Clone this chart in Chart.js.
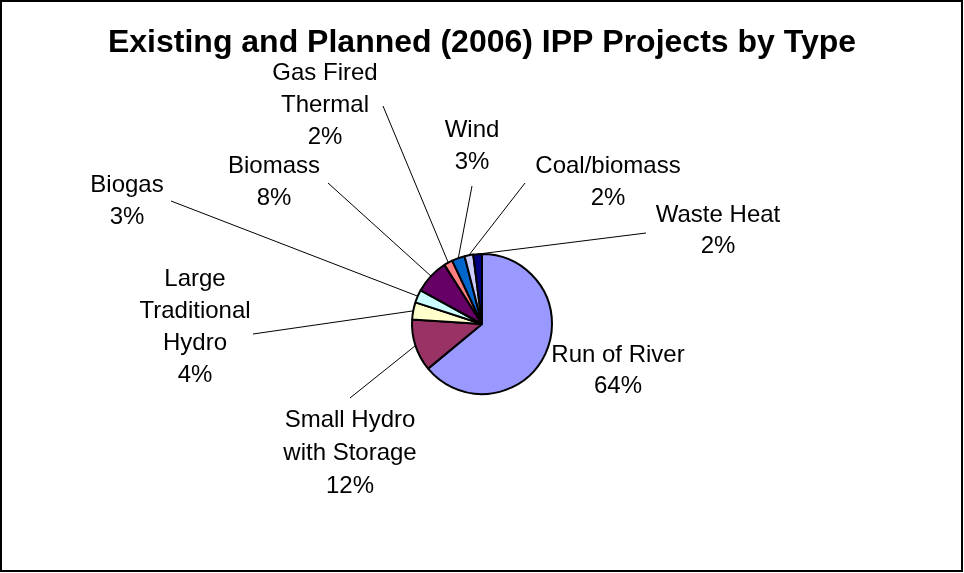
<!DOCTYPE html>
<html>
<head>
<meta charset="utf-8">
<script src="https://cdn.jsdelivr.net/npm/chart.js@4/dist/chart.umd.min.js"></script>
<style>
  body { margin: 0; background: #fff; }
  #wrap { width: 964px; height: 573px; }
</style>
</head>
<body>
<div id="wrap"><canvas id="pieChart" width="964" height="573"></canvas></div>
<script>
// chart data
const chartTitle = "Existing and Planned (2006) IPP Projects by Type";
const categories = [
    "Run of River", "Small Hydro\nwith Storage", "Large\nTraditional\nHydro", "Biogas",
    "Biomass", "Gas Fired\nThermal", "Wind", "Coal/biomass", "Waste Heat"
];
const shares = [64, 12, 4, 3, 8, 2, 3, 2, 2];
const sliceColors = [
    "#9999FF", "#993366", "#FFFFCC", "#CCFFFF",
    "#660066", "#FF8080", "#0066CC", "#CCCCFF", "#000080"
];

// where each label sits (first baseline) and where its leader line starts
const labelPos = [
    { x: 618, y: 362, lh: 31 },
    { x: 350, y: 427, lh: 33 },
    { x: 195, y: 286, lh: 32 },
    { x: 127, y: 192, lh: 32 },
    { x: 274, y: 173, lh: 32 },
    { x: 325, y: 80, lh: 32 },
    { x: 472, y: 137, lh: 32 },
    { x: 608, y: 173, lh: 32 },
    { x: 718, y: 222, lh: 31 }
];
const leaderStart = [null, [350, 398], [253, 334], [171, 201], [328, 183], [383, 106], [472, 186], [525, 183], [646, 233]];

const decorations = {
    id: "decorations",
    afterDraw(chart) {
        const ctx = chart.ctx;
        const meta = chart.getDatasetMeta(0);
        const total = shares.reduce((a, b) => a + b, 0);
        ctx.save();

        // outer frame
        ctx.strokeStyle = "#000";
        ctx.lineWidth = 2;
        ctx.strokeRect(1, 1, 961, 570);

        // title
        ctx.fillStyle = "#000";
        ctx.font = "bold 32px 'Liberation Sans', Arial, sans-serif";
        ctx.textAlign = "center";
        ctx.textBaseline = "alphabetic";
        ctx.fillText(chartTitle, 482, 52);

        // leader lines
        ctx.lineWidth = 1;
        meta.data.forEach((arc, i) => {
            const start = leaderStart[i];
            if (!start) return;
            const p = arc.getProps(["x", "y", "startAngle", "endAngle", "outerRadius"], true);
            const mid = (p.startAngle + p.endAngle) / 2;
            ctx.beginPath();
            ctx.moveTo(start[0], start[1]);
            ctx.lineTo(p.x + Math.cos(mid) * p.outerRadius, p.y + Math.sin(mid) * p.outerRadius);
            ctx.stroke();
        });

        // labels
        ctx.font = "24px 'Liberation Sans', Arial, sans-serif";
        categories.forEach((name, i) => {
            const lines = name.split("\n");
            lines.push(Math.round(shares[i] / total * 100) + "%");
            const pos = labelPos[i];
            lines.forEach((line, k) => ctx.fillText(line, pos.x, pos.y + k * pos.lh));
        });
        ctx.restore();
    }
};

new Chart(document.getElementById("pieChart"), {
    type: "pie",
    data: {
        labels: categories,
        datasets: [{
            data: shares,
            backgroundColor: sliceColors,
            borderColor: "#000",
            borderWidth: 2
        }]
    },
    options: {
        responsive: false,
        animation: false,
        radius: 70,
        layout: { padding: { top: 75 } },
        plugins: {
            legend: { display: false },
            tooltip: { enabled: false }
        }
    },
    plugins: [decorations]
});
</script>
</body>
</html>
